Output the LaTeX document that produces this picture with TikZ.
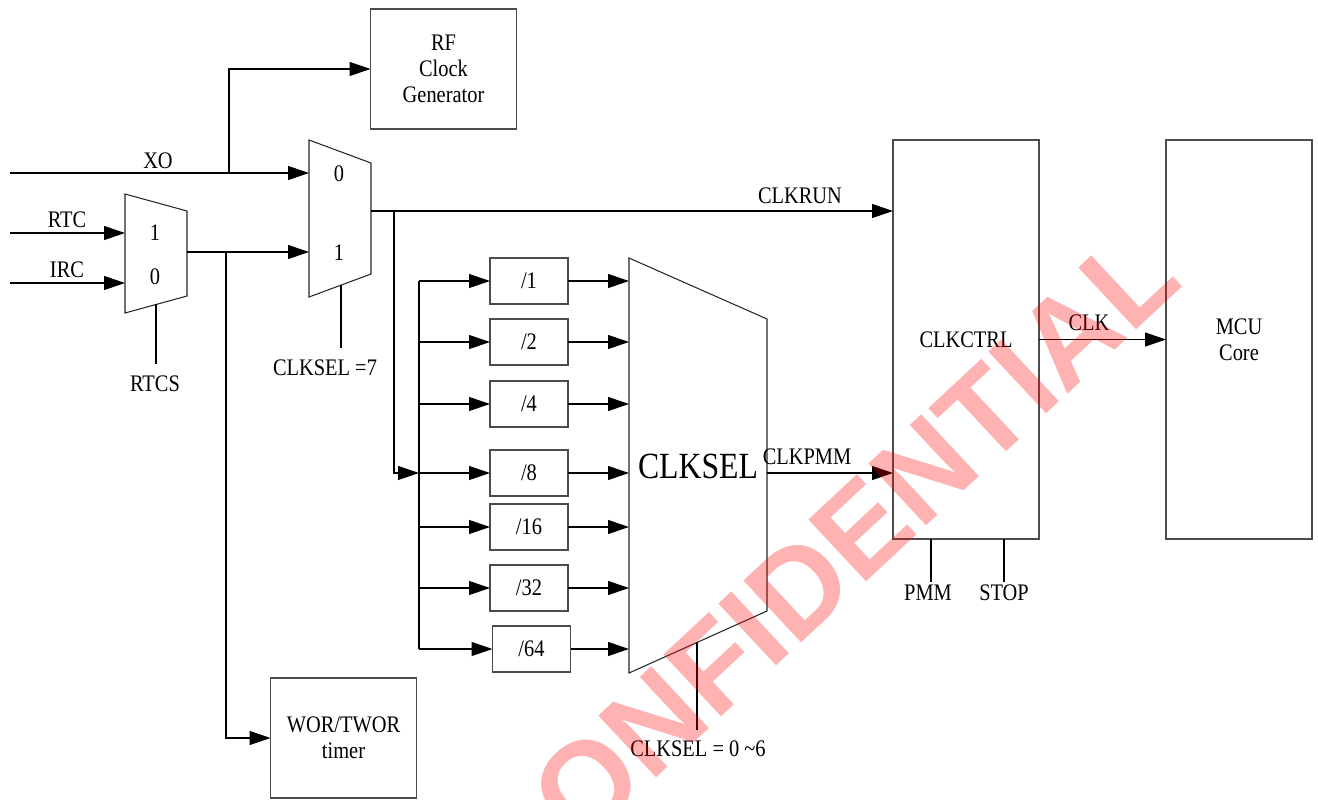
\documentclass[tikz,border=0pt]{standalone}
\usepackage{fontspec}
\setmainfont{Liberation Serif}[FakeStretch=0.86]
\newfontfamily\wmfont{Liberation Sans}
\usetikzlibrary{arrows.meta,positioning,calc}

\newcommand\lblfont{\fontsize{13.5}{14.7}\selectfont}

\begin{document}
\begin{tikzpicture}[x=0.2mm,y=-0.2mm,
  line width=0.6pt,
  blk/.style={draw=black!70,outer sep=0pt,minimum width=29.2mm,
    minimum height=24mm,font=\lblfont,align=center},
  tall/.style={blk,minimum height=79.8mm},
  divbox/.style={draw=black!70,outer sep=0pt,minimum width=15.6mm,
    minimum height=9.2mm,font=\lblfont},
  mux/.style={draw=black!85},
  lbl/.style={font=\lblfont,inner sep=0pt},
  >={Triangle[length=4.2mm,width=2.8mm]}
]
\useasboundingbox (0,0) rectangle (1318,799);

% blocks
\node[blk]  (rf)   at (443.5,69)    {RF\\Clock\\Generator};
\node[blk]  (wor)  at (343.5,738)   {WOR/TWOR\\timer};
\node[tall] (ctrl) at (966,339.5)   {CLKCTRL};
\node[tall] (mcu)  at (1239,339.5)  {MCU\\Core};

% muxes
\draw[mux] (125,194) -- (187,211) -- (187,296) -- (125,313) -- cycle;
\draw[mux] (309,140) -- (371,163) -- (371,274) -- (309,297) -- cycle;
\draw[mux] (629,258) -- (767,319) -- (767,611) -- (629,673) -- cycle;
\node[lbl] (m1one)  at (155,233) {1};
\node[lbl] (m1zero) at (155,277) {0};
\node[lbl] (m2zero) at (339,174) {0};
\node[lbl] (m2one)  at (339,253) {1};
\node[font=\fontsize{21}{21}\selectfont,inner sep=0pt] (csel) at (698,466) {CLKSEL};

% dividers
\foreach \n/\y in {1/281,2/342,4/404,8/473,16/527,32/588}
  \node[divbox] (d\n) at (529,\y) {/\n};
\node[divbox] (d64) at (531.5,649) {/64};

% pins
\coordinate (xo)    at (10,173);
\coordinate (rtc)   at (10,233);
\coordinate (irc)   at (10,283);
\coordinate (m1a)   at (125,233);
\coordinate (m1b)   at (125,283);
\coordinate (m1o)   at (187,252);
\coordinate (m1s)   at (156,304);
\coordinate (m1e)   at (156,364);
\coordinate (m2a)   at (309,173);
\coordinate (m2b)   at (309,252);
\coordinate (m2o)   at (371,211);
\coordinate (m2s)   at (341,285);
\coordinate (m2e)   at (341,348);
\coordinate (csin)  at (629,473);
\coordinate (cso)   at (767,473);
\coordinate (css)   at (697,642);
\coordinate (cse)   at (697,730);
\coordinate (xotap) at (229,173);
\coordinate (m1tap) at (226,252);
\coordinate (m2tap) at (394,211);
\coordinate (bus)   at (419,473);
\coordinate (pmm)   at (931,582);
\coordinate (stop)  at (1004,582);

% wires
\draw[->] (xo) -- (m2a);
\draw[->] (xotap) |- (rf.west);
\draw[->] (rtc) -- (m1a);
\draw[->] (irc) -- (m1b);
\draw[->] (m1o) -- (m2b);
\draw[->] (m1tap) |- (wor.west);
\draw (m1s) -- (m1e);
\draw (m2s) -- (m2e);
\draw[->] (m2o) -- (m2o -| ctrl.west);
\draw[->] (m2tap) |- (bus);
\draw (bus |- d1.west) -- (bus |- d64.west);
\foreach \n in {1,2,4,8,16,32,64}{
  \draw[->] (bus |- d\n.west) -- (d\n.west);
  \draw[->] (d\n.east) -- (csin |- d\n.east);
}
\draw[->] (cso) -- (cso -| ctrl.west);
\draw (css) -- (cse);
\draw[->] (ctrl.east) -- (mcu.west);
\draw (pmm |- ctrl.south) -- (pmm);
\draw (stop |- ctrl.south) -- (stop);

% labels
\node[lbl] (xolbl)   at (158,161) {XO};
\node[lbl] (rtclbl)  at (67,220)  {RTC};
\node[lbl] (irclbl)  at (67,270)  {IRC};
\node[lbl] (rtcslbl) at (155,384) {RTCS};
\node[lbl] (sel7)    at (325,368) {CLKSEL =7};
\node[lbl] (runlbl)  at (800,196) {CLKRUN};
\node[lbl] (pmmlbl)  at (807,457) {CLKPMM};
\node[lbl] (clklbl)  at (1089,323) {CLK};
\node[lbl] (pmmin)   at (928,593) {PMM};
\node[lbl] (stopin)  at (1004,593) {STOP};
\node[lbl] (sel06)   at (698,749) {CLKSEL = 0 \textasciitilde6};

% watermark
\node[text=red,text opacity=0.3,rotate=43,inner sep=0pt,
  font=\wmfont\bfseries\fontsize{70}{70}\selectfont] (wm) at (822,566) {CONFIDENTIAL};
\end{tikzpicture}
\end{document}
